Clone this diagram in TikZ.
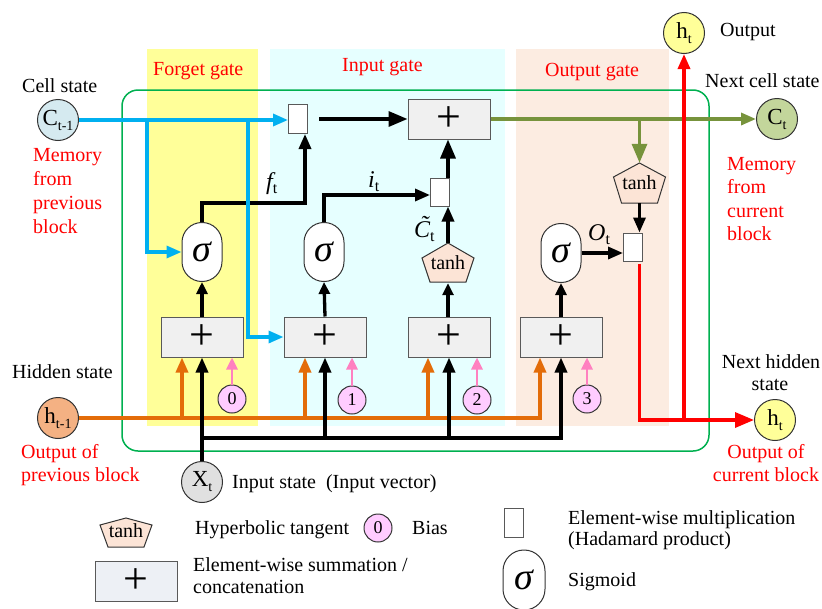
\documentclass[tikz,border=0pt]{standalone}
\usepackage{fontspec}
\setmainfont{Liberation Serif}
\usetikzlibrary{arrows.meta,calc}
\definecolor{yellowbg}{HTML}{FFFF99}
\definecolor{cyanbg}{HTML}{E6FFFF}
\definecolor{peachbg}{HTML}{FCECE1}
\definecolor{greenc}{HTML}{00B050}
\definecolor{bluec}{HTML}{00B0F0}
\definecolor{orangec}{HTML}{E36C09}
\definecolor{olivec}{HTML}{77933C}
\definecolor{pinkc}{HTML}{FF80C0}
\definecolor{biasfill}{HTML}{FFCCFF}
\definecolor{cfill}{HTML}{D5EAF0}
\definecolor{ctfill}{HTML}{C3D69B}
\definecolor{htfill}{HTML}{FFFF99}
\definecolor{hfill}{HTML}{F4B183}
\definecolor{xfill}{HTML}{E0E0E0}
\definecolor{sumfill}{HTML}{F0F0F0}
\definecolor{legsumfill}{HTML}{EDF0F5}
\definecolor{pentfill}{HTML}{FCE4D6}
\definecolor{boxline}{HTML}{595959}
\definecolor{darkline}{HTML}{333333}
\newcommand\subt[1]{\raisebox{-5pt}{\fontsize{14}{14}\selectfont #1}}
\newcommand\glab[2]{{\fontsize{24}{24}\selectfont\itshape #1}\raisebox{-4pt}{\fontsize{16}{16}\selectfont #2}}
\tikzset{
  every node/.style={font=\fontsize{20}{24}\selectfont},
  txt/.style={anchor=base west, inner sep=0pt},
  rtxt/.style={txt, text=red},
  ctxt/.style={anchor=base, inner sep=0pt},
  rctxt/.style={ctxt, text=red},
  sumbox/.style={draw=boxline, fill=sumfill, line width=1pt, minimum width=82pt, minimum height=40pt, inner sep=0pt, font=\fontsize{44}{44}\selectfont},
  multbox/.style={draw=boxline, fill=white, line width=1pt, minimum width=19pt, minimum height=29pt, inner sep=0pt},
  signode/.style={draw=darkline, fill=white, line width=1pt, minimum width=40pt, minimum height=59pt, rounded corners=19.9pt, inner sep=0pt, font=\fontsize{38}{38}\selectfont\itshape},
  statenode/.style={circle, draw=darkline, line width=1pt, minimum size=41pt, inner sep=0pt, font=\fontsize{23}{23}\selectfont},
  biasnode/.style={circle, draw=darkline, fill=biasfill, line width=1pt, minimum size=28pt, inner sep=0pt, font=\fontsize{18}{18}\selectfont},
  pentlabel/.style={minimum width=52pt, minimum height=40pt, inner sep=0pt},
  pentst/.style={draw=darkline, fill=pentfill, line width=1pt},
  tip/.style={-{Triangle[length=15pt,width=12pt]}},
  bigtip/.style={-{Triangle[length=19pt,width=15pt]}},
  smalltip/.style={-{Triangle[length=12pt,width=11pt]}},
  blk/.style={line width=3.3pt, black},
  bluel/.style={line width=3.3pt, bluec},
  orl/.style={line width=3.3pt, orangec},
  olivel/.style={line width=3.3pt, olivec},
  redl/.style={line width=3.3pt, red},
  pinkl/.style={line width=2.8pt, pinkc}
}
\begin{document}
\begin{tikzpicture}[x=1pt,y=-1pt]
\useasboundingbox (0,0) rectangle (822,608);
% gate regions
\fill[yellowbg] (147,49) rectangle (258,426);
\fill[cyanbg] (270,49) rectangle (505,426);
\fill[peachbg] (516,49) rectangle (669,426);
\draw[greenc, line width=1.5pt, rounded corners=16pt] (122,90) rectangle (709,451);
\node[rtxt] at (153,75) {Forget gate};
\node[rtxt] at (342,71) {Input gate};
\node[rtxt] at (545,76) {Output gate};

% pentagons
\filldraw[pentst, shift={(448,263)}] (0,-20) -- (26,-5) -- (18,19) -- (-18,19) -- (-26,-5) -- cycle;
\filldraw[pentst, shift={(639.5,183)}] (0,-20) -- (26,-6) -- (18,20) -- (-18,20) -- (-26,-6) -- cycle;
\filldraw[pentst, shift={(126,532)}] (0,-14) -- (26,-7) -- (18,15) -- (-18,15) -- (-26,-7) -- cycle;

% nodes
\node[statenode, fill=cfill] (Ctm1) at (58,120) {C\subt{t-1}};
\node[statenode, fill=ctfill] (Ct) at (777,119) {C\subt{t}};
\node[statenode, fill=hfill] (htm1) at (58,418) {h\subt{t-1}};
\node[statenode, fill=htfill] (htnext) at (775,420) {h\subt{t}};
\node[statenode, fill=htfill] (htout) at (684,33) {h\subt{t}};
\node[statenode, fill=xfill] (Xt) at (202,482) {X\subt{t}};

\node[multbox] (m1) at (298,119) {};
\node[multbox, minimum height=28pt] (m2) at (440,192) {};
\node[multbox, minimum height=28pt] (m3) at (633,247) {};
\node[sumbox] (bigsum) at (449,119) {+};

\node[signode] (sf) at (202,252) {σ};
\node[signode] (si) at (324,252) {σ};
\node[signode] (so) at (561,253) {σ};

\node[pentlabel] (t1) at (448,263) {tanh};
\node[pentlabel] (t2) at (639.5,183) {tanh};

\node[sumbox] (s1) at (202,337) {+};
\node[sumbox] (s2) at (325,337) {+};
\node[sumbox] (s3) at (449,337) {+};
\node[sumbox] (s4) at (561,337) {+};

\node[biasnode] (b0) at (232,399) {0};
\node[biasnode] (b1) at (352,400) {1};
\node[biasnode] (b2) at (477,400) {2};
\node[biasnode] (b3) at (587,399) {3};

% orange (hidden state)
\coordinate (o1) at (182,418);
\coordinate (o2) at (305,418);
\coordinate (o3) at (428,418);
\coordinate (o4) at (540,418);
\draw[orl, tip] (htm1.east) -| (s4.south -| o4);
\draw[orl, tip] (o1) -- (s1.south -| o1);
\draw[orl, tip] (o2) -- (s2.south -| o2);
\draw[orl, tip] (o3) -- (s3.south -| o3);

% black (input)
\coordinate (xj) at (202,438);
\draw[blk, tip] (Xt.north) -- (s1.south);
\draw[blk, tip] (xj) -| (s4.south);
\draw[blk, tip] (s2.south |- xj) -- (s2.south);
\draw[blk, tip] (s3.south |- xj) -- (s3.south);

% pink bias
\draw[pinkl, smalltip] (b0.north) -- (b0.north |- s1.south);
\draw[pinkl, smalltip] (b1.north) -- (b1.north |- s2.south);
\draw[pinkl, smalltip] (b2.north) -- (b2.north |- s3.south);
\draw[pinkl, smalltip] (b3.north) -- (b3.north |- s4.south);

% sums to activations
\draw[blk, smalltip] (s1.north) -- (sf.south);
\draw[blk, smalltip] (s2.north) -- (si.south);
\draw[blk, smalltip] (t1.south |- s3.north) -- (t1.south);
\draw[blk, smalltip] (s4.north) -- (so.south);

% gate outputs
\coordinate (fk) at (305,203);
\draw[blk, tip] (sf.north) |- (fk) -- (fk |- m1.south);
\draw[blk, tip] (si.north) |- ($(m2.west)+(0,3)$);
\draw[blk, tip] (t1.north) -- (t1.north |- m2.south);
\draw[blk, bigtip] (t1.north |- m2.north) -- (t1.north |- bigsum.south);
\draw[blk, bigtip] ($(m1.east)+(11,0)$) -- (bigsum.west);
\draw[blk, tip] (so.east) -- (so.east -| m3.west);

% blue (cell state)
\coordinate (bj1) at (147,120);
\coordinate (bj2) at (248,120);
\draw[bluel, tip] (Ctm1.east) -- (Ctm1.east -| m1.west);
\draw[bluel, tip] (bj1) |- (sf.west);
\draw[bluel, tip] (bj2) |- (s2.west);

% olive (next cell state)
\coordinate (oj) at (639.5,119);
\draw[olivel, tip] (bigsum.east) -- (Ct.west);
\draw[olivel, bigtip] (oj) -- (t2.north);
\draw[blk, tip] (t2.south) -- (t2.south |- m3.north);

% red (hidden output)
\coordinate (rj) at (684,420);
\draw[redl, bigtip] ($(t2.south |- m3.south)+(0,2)$) |- (htnext.west);
\draw[redl, tip] (rj) -- (htout.south);

% gate value labels
\node[txt] at (266,189) {\glab{f}{t}};
\node[txt] at (368,187) {\glab{i}{t}};
\node[txt] at (588,240) {\glab{O}{t}};
\node[txt] at (414,237) {\glab{\~{C}}{t}};

% outer labels
\node[txt] at (22,92) {Cell state};
\node[rtxt] at (33,161) {Memory};
\node[rtxt] at (33,185) {from};
\node[rtxt] at (33,209) {previous};
\node[rtxt] at (33,233) {block};
\node[txt] at (720,36) {Output};
\node[txt] at (705,87) {Next cell state};
\node[rtxt] at (727,170) {Memory};
\node[rtxt] at (727,193) {from};
\node[rtxt] at (727,217) {current};
\node[rtxt] at (727,240) {block};
\node[txt] at (12,378) {Hidden state};
\node[rtxt] at (21,458) {Output of};
\node[rtxt] at (21,481) {previous block};
\node[ctxt] at (771,368) {Next hidden};
\node[ctxt] at (770,390) {state};
\node[rctxt] at (766,458) {Output of};
\node[rctxt] at (766,481) {current block};
\node[txt] at (232,488) {Input state\ \ (Input vector)};

% legend
\node[pentlabel, minimum height=29pt] (lt) at (126,531) {tanh};
\node[txt] at (195,534) {Hyperbolic tangent};
\node[biasnode] (lb) at (378,528) {0};
\node[txt] at (412,534) {Bias};
\node[sumbox, fill=legsumfill] (ls) at (136,581) {+};
\node[txt] at (193,571) {Element-wise summation /};
\node[txt] at (193,593) {concatenation};
\node[multbox] (lm) at (513.5,522.5) {};
\node[txt] at (568,524) {Element-wise multiplication};
\node[txt] at (568,545) {(Hadamard product)};
\node[signode, minimum width=42pt, minimum height=60pt, rounded corners=20.9pt] (ls2) at (524,580) {σ};
\node[txt] at (568,586) {Sigmoid};
\end{tikzpicture}
\end{document}
